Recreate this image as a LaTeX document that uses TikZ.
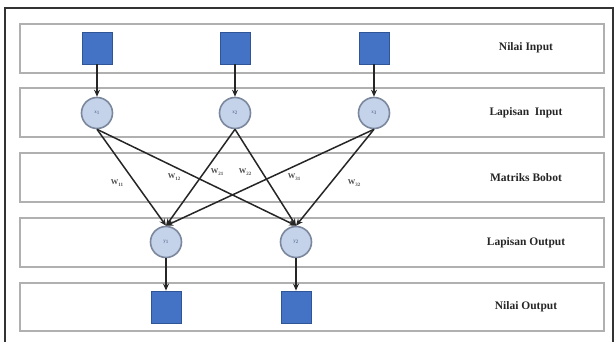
\documentclass[tikz,border=0pt]{standalone}
\usepackage{fontspec}
\setmainfont{Liberation Serif}
\usetikzlibrary{arrows.meta}
\definecolor{bandgray}{HTML}{B0B0B0}
\definecolor{sqfill}{HTML}{4472C4}
\definecolor{sqedge}{HTML}{2F5597}
\definecolor{cfill}{HTML}{C5D3EA}
\definecolor{cedge}{HTML}{7A879C}
\definecolor{clabel}{HTML}{40557A}
\tikzset{
  band/.style={draw=bandgray, line width=1.8pt},
  layertext/.style={font=\fontsize{11.5}{13}\selectfont\bfseries, text=black!85},
  valuebox/.style={draw=sqedge, fill=sqfill, line width=0.8pt, minimum width=30pt, minimum height=32pt, inner sep=0pt},
  neuron/.style={circle, draw=cedge, fill=cfill, line width=1.6pt, minimum size=31pt, inner sep=0pt, font=\fontsize{5}{6}\selectfont, text=clabel},
  link/.style={draw=black!85, line width=1.5pt, -{Stealth[length=7pt,width=6pt]}},
  wlabel/.style={font=\fontsize{7.5}{8}\selectfont\bfseries, text=black!70, inner sep=0pt}
}
\newcommand{\wsub}[1]{W\raisebox{-1.5pt}{\fontsize{5}{6}\selectfont #1}}
\begin{document}
\begin{tikzpicture}[x=1pt,y=-1pt]
  \useasboundingbox (0,0) rectangle (614,342);
  % outer frame
  \draw[black!80, line width=2pt] (5,342) -- (5,8) -- (613,8) -- (613,342);
  % layer bands
  \foreach \t/\b in {24/73, 88/137, 153/202, 218/267, 283/331}
    \draw[band] (20,\t) rectangle (604,\b);
  % layer names
  \node[layertext] (ln1) at (526,48) {Nilai Input};
  \node[layertext] (ln2) at (526,112.5) {Lapisan\ \ Input};
  \node[layertext] (ln3) at (526,177.5) {Matriks Bobot};
  \node[layertext] (ln4) at (526,242.5) {Lapisan Output};
  \node[layertext] (ln5) at (526,307) {Nilai Output};
  % input values
  \node[valuebox] (v1) at (97,48) {};
  \node[valuebox] (v2) at (235,48) {};
  \node[valuebox] (v3) at (374,48) {};
  % input neurons
  \node[neuron] (x1) at (97,113) {x\textsubscript{1}};
  \node[neuron] (x2) at (235,113) {x\textsubscript{2}};
  \node[neuron] (x3) at (374,113) {x\textsubscript{3}};
  % output neurons
  \node[neuron] (y1) at (166,242) {y\textsubscript{1}};
  \node[neuron] (y2) at (296,242) {y\textsubscript{2}};
  % output values
  \node[valuebox] (o1) at (166,307) {};
  \node[valuebox] (o2) at (296,307) {};
  % connections
  \foreach \i in {1,2,3} \draw[link] (v\i.south) -- (x\i.north);
  \foreach \i in {1,2,3}
    \foreach \j in {1,2}
      \draw[link] (x\i.south) -- (y\j.north);
  \draw[link] (y1.south) -- (o1.north);
  \draw[link] (y2.south) -- (o2.north);
  % weights
  \node[wlabel] (w11) at (117,183) {\wsub{11}};
  \node[wlabel] (w12) at (174,177) {\wsub{12}};
  \node[wlabel] (w21) at (217,172) {\wsub{21}};
  \node[wlabel] (w22) at (245,172) {\wsub{22}};
  \node[wlabel] (w31) at (294,177) {\wsub{31}};
  \node[wlabel] (w32) at (354,183) {\wsub{32}};
\end{tikzpicture}
\end{document}
